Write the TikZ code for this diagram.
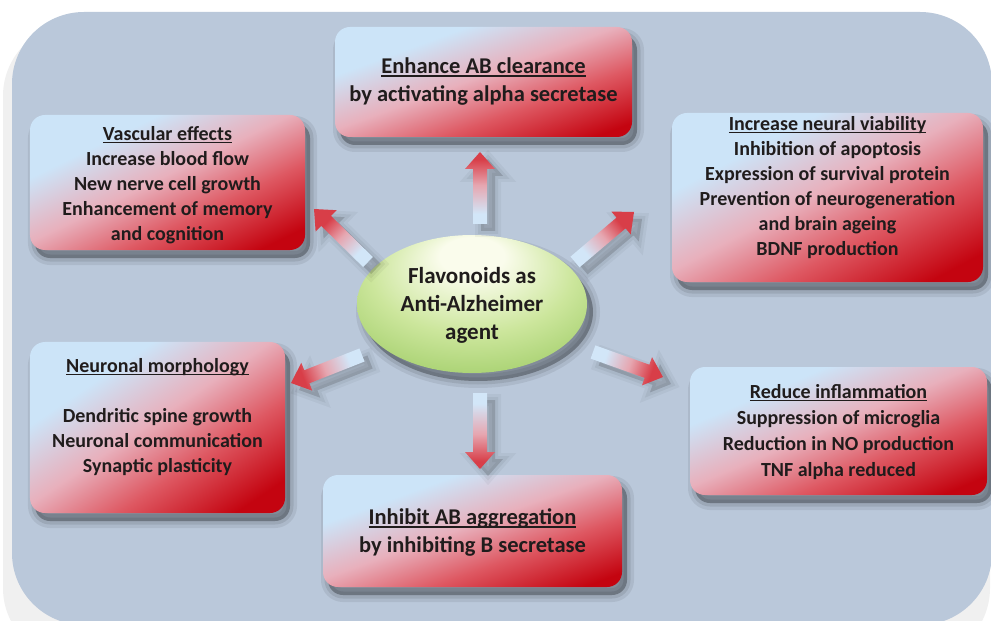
\documentclass[tikz,border=0pt]{standalone}
\usepackage{fontspec}
\setmainfont{Carlito}
\usetikzlibrary{calc,shapes.geometric}

% palette
\definecolor{panelblue}{RGB}{186,200,218}
\definecolor{boxblue}{RGB}{204,228,248}
\definecolor{boxpink}{RGB}{232,176,188}
\definecolor{boxred}{RGB}{222,88,98}
\definecolor{boxdark}{RGB}{196,4,16}
\definecolor{fluxblue}{RGB}{210,230,248}
\definecolor{fluxpink}{RGB}{230,166,176}
\definecolor{fluxred}{RGB}{216,62,72}
\definecolor{ellhi}{RGB}{250,252,236}
\definecolor{ellmid}{RGB}{204,230,156}
\definecolor{ellout}{RGB}{148,198,90}
\definecolor{inktext}{RGB}{32,28,28}

% gradients
\pgfdeclareverticalshading{boxshade}{100bp}{color(0bp)=(boxdark); color(22bp)=(boxdark); color(38bp)=(boxred); color(52bp)=(boxpink); color(68bp)=(boxblue); color(100bp)=(boxblue)}
\pgfdeclareverticalshading{fluxshade}{100bp}{color(0bp)=(fluxblue); color(32bp)=(fluxblue); color(52bp)=(fluxpink); color(70bp)=(fluxred); color(100bp)=(fluxred)}
\pgfdeclareradialshading{ellshade}{\pgfpoint{0bp}{20bp}}{color(0bp)=(ellhi); color(7bp)=(ellhi); color(22bp)=(ellmid); color(40bp)=(ellout); color(50bp)=(ellout)}

% fonts
\newcommand\boxfont{\fontsize{20bp}{25bp}\selectfont\bfseries}
\newcommand\bigboxfont{\fontsize{22.5bp}{28bp}\selectfont\bfseries}
\newcommand\hubfont{\fontsize{23bp}{28bp}\selectfont\bfseries}

% underlined heading
\newcommand\titleline[1]{\setbox0\hbox{#1}\rlap{\rule[-3bp]{\wd0}{1.6bp}}\box0}

\tikzset{
  softshadow/.style={
    preaction={fill=black, draw=black, opacity=0.07, line width=14bp, transform canvas={shift={(#1)}}},
    preaction={fill=black, draw=black, opacity=0.09, line width=7bp, transform canvas={shift={(#1)}}},
    preaction={fill=black, opacity=0.16, transform canvas={shift={(#1)}}}
  },
  faintshadow/.style={
    preaction={fill=black, draw=black, opacity=0.04, line width=12bp, transform canvas={shift={(#1)}}},
    preaction={fill=black, draw=black, opacity=0.05, line width=6bp, transform canvas={shift={(#1)}}},
    preaction={fill=black, opacity=0.06, transform canvas={shift={(#1)}}}
  },
  fxbox/.style={rectangle, rounded corners=15bp, shade, shading=boxshade, inner sep=0pt, softshadow={5,-8}},
  fxtext/.style={align=center, inner sep=0pt, text=inktext, font=\boxfont},
  flux/.style={shade, shading=fluxshade, faintshadow={8,-7}},
  hub/.style={ellipse, shade, shading=ellshade, inner sep=0pt, minimum width=230bp, minimum height=138bp, softshadow={6,-8}}
}

% block arrow from tail coordinate #1 to tip coordinate #2
\newcommand\fluxarrow[2]{%
  \pgfmathanglebetweenpoints{\pgfpointanchor{#1}{center}}{\pgfpointanchor{#2}{center}}%
  \pgfmathsetmacro\fluxang{\pgfmathresult-90}%
  \coordinate (#1hb) at ($(#2)!17bp!(#1)$);
  \path[flux, shading angle=\fluxang]
    ($(#1)!7bp!90:(#2)$) -- ($(#1hb)!7bp!90:(#2)$) -- ($(#1hb)!15bp!90:(#2)$)
    -- (#2) -- ($(#1hb)!15bp!-90:(#2)$) -- ($(#1hb)!7bp!-90:(#2)$)
    -- ($(#1)!7bp!-90:(#2)$) -- cycle;
}

\begin{document}
\begin{tikzpicture}[x=1bp,y=1bp]
\useasboundingbox (0,0) rectangle (991,-621);
\fill[white] (0,0) rectangle (991,-621);

% backdrop panel with its faint halo
\fill[black!6, rounded corners=72bp] (3,-24) rectangle (990,-660);
\fill[panelblue, rounded corners=72bp] (12,-12) rectangle (992,-625);

% effect boxes
\node[fxbox, shading angle=20, minimum width=297bp, minimum height=110bp] (enh) at (483.5,-82) {};
\node[fxbox, shading angle=26, minimum width=275bp, minimum height=135bp] (vas) at (167.5,-182.5) {};
\node[fxbox, shading angle=28, minimum width=311bp, minimum height=169bp] (via) at (827.5,-197.5) {};
\node[fxbox, shading angle=34, minimum width=255bp, minimum height=171bp] (mor) at (157.5,-427.5) {};
\node[fxbox, shading angle=23, minimum width=297bp, minimum height=128bp] (inf) at (838.5,-431) {};
\node[fxbox, shading angle=20, minimum width=299bp, minimum height=112bp] (agg) at (472.5,-531) {};

% box texts
\node[fxtext, font=\bigboxfont] (enhT) at (483.5,-82)
  {\titleline{Enhance AB clearance}\\by activating alpha secretase};
\node[fxtext] (vasT) at (167.5,-185)
  {\titleline{Vascular effects}\\Increase blood flow\\New nerve cell growth\\Enhancement of memory\\and cognition};
\node[fxtext] (viaT) at (827.5,-187.5)
  {\titleline{Increase neural viability}\\Inhibition of apoptosis\\Expression of survival protein\\Prevention of neurogeneration\\and brain ageing\\BDNF production};
\node[fxtext] (morT) at (157.5,-417)
  {\titleline{Neuronal morphology}\\[25bp]Dendritic spine growth\\Neuronal communication\\Synaptic plasticity};
\node[fxtext, font=\fontsize{20bp}{26bp}\selectfont\bfseries] (infT) at (838.5,-432)
  {\titleline{Reduce inflammation}\\Suppression of microglia\\Reduction in NO production\\TNF alpha reduced};
\node[fxtext, font=\bigboxfont] (aggT) at (472.5,-532.5)
  {\titleline{Inhibit AB aggregation}\\by inhibiting B secretase};

% central hub
\node[hub] (hub) at (472,-304) {};
\node[fxtext, font=\hubfont] (hubT) at (472,-305) {Flavonoids as\\Anti-Alzheimer\\agent};

% arrow ends
\coordinate (upT) at (480,-224);   \coordinate (upH) at (480,-152);
\coordinate (ulT) at (368,-262);   \coordinate (ulH) at (314,-209);
\coordinate (urT) at (575,-262);   \coordinate (urH) at (634,-212);
\coordinate (dlT) at (362,-355);   \coordinate (dlH) at (291,-383);
\coordinate (drT) at (593,-352);   \coordinate (drH) at (663,-377);
\coordinate (dnT) at (480,-393);   \coordinate (dnH) at (480,-469);

\fluxarrow{upT}{upH}
\fluxarrow{ulT}{ulH}
\fluxarrow{urT}{urH}
\fluxarrow{dlT}{dlH}
\fluxarrow{drT}{drH}
\fluxarrow{dnT}{dnH}
\end{tikzpicture}
\end{document}
